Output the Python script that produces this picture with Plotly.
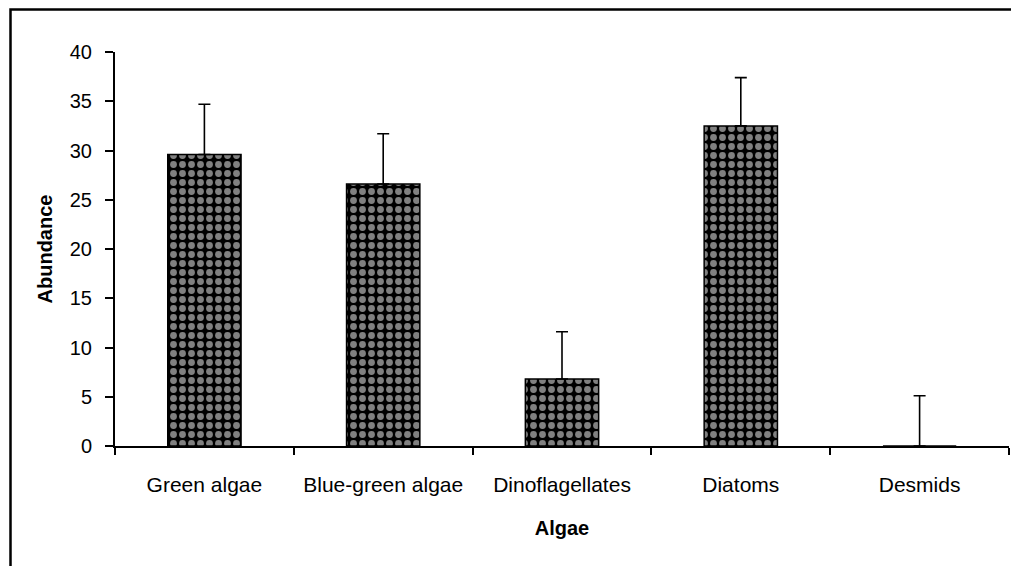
import plotly.graph_objects as go

categories = ["Green algae", "Blue-green algae", "Dinoflagellates", "Diatoms", "Desmids"]
abundance = [29.6, 26.6, 6.8, 32.5, 0.0]
error_plus = [5.1, 5.1, 4.8, 4.9, 5.1]
y_ticks = [0, 5, 10, 15, 20, 25, 30, 35, 40]

FONT = "Liberation Sans, Arial, sans-serif"

fig = go.Figure()
fig.add_trace(go.Bar(
    x=categories,
    y=abundance,
    width=0.41,
    marker=dict(
        color="black",
        line=dict(color="black", width=1.5),
        pattern=dict(shape=".", fgcolor="white", bgcolor="black", size=9, solidity=0.45),
    ),
    error_y=dict(type="data", symmetric=False, array=error_plus,
                 arrayminus=[0] * len(error_plus),
                 color="black", thickness=1.6, width=6),
    showlegend=False,
))

# the page body adds an 8px offset
OFF = 8
W, H = 1019 - OFF, 566 - OFF
L, R, T, B = 115 - OFF, 10, 52 - OFF, 120
pw, ph = W - L - R, H - T - B

fig.update_layout(
    width=W, height=H,
    margin=dict(l=L, r=R, t=T, b=B),
    paper_bgcolor="white", plot_bgcolor="white",
    font=dict(family=FONT, color="black", size=20),
    xaxis=dict(
        type="category",
        showline=True, linecolor="black", linewidth=2,
        ticks="outside", tickson="boundaries", ticklen=7, tickcolor="black", tickwidth=1.5,
        tickfont=dict(size=21), ticklabelstandoff=19,
        showgrid=False,
        title=dict(text="<b>Algae</b>", font=dict(size=20), standoff=26),
    ),
    yaxis=dict(
        range=[0, 40], tickvals=y_ticks,
        showline=True, linecolor="black", linewidth=2,
        ticks="outside", ticklen=8, tickcolor="black", tickwidth=1.5,
        tickfont=dict(size=20), ticklabelstandoff=9,
        showgrid=False, zeroline=False,
        title=dict(text="<b>Abundance</b>", font=dict(size=20), standoff=12),
    ),
    shapes=[dict(
        type="rect", xref="paper", yref="paper",
        x0=(10.5 - 115) / pw, x1=1.3,
        y0=-0.6, y1=(446 - 9.5) / ph,
        line=dict(color="black", width=2.5), fillcolor="rgba(0,0,0,0)",
        layer="below",
    )],
)

fig.write_html("out.html")
